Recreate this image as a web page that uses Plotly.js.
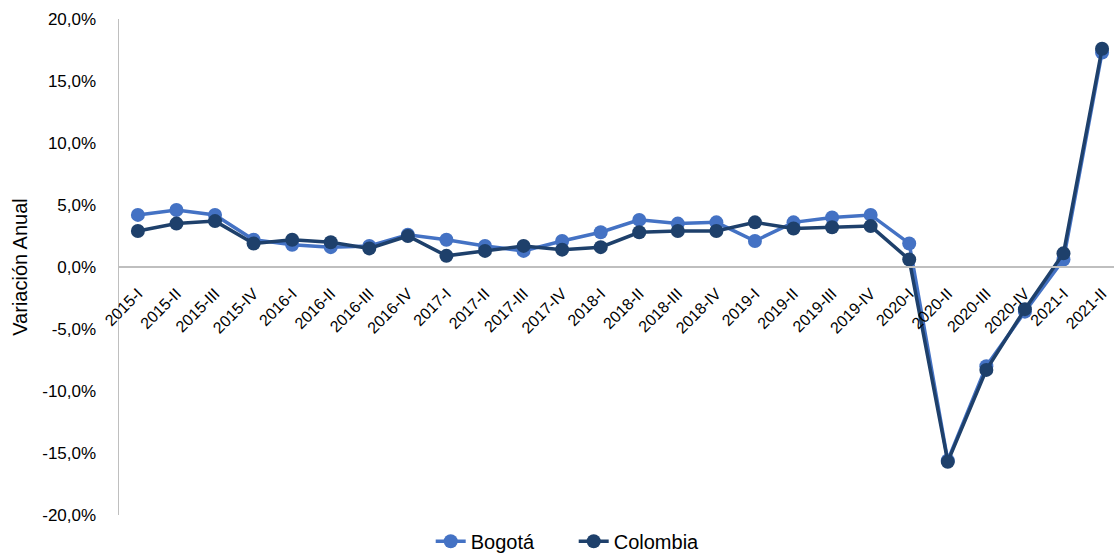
<!DOCTYPE html>
<html>
<head>
<meta charset="utf-8">
<script src="https://cdn.plot.ly/plotly-3.0.1.min.js"></script>
<style>html,body{margin:0;padding:0;background:#fff;}#chart{width:1114px;height:554px;}</style>
</head>
<body>
<div id="chart"></div>
<script>
const categories = ["2015-I","2015-II","2015-III","2015-IV","2016-I","2016-II","2016-III","2016-IV",
  "2017-I","2017-II","2017-III","2017-IV","2018-I","2018-II","2018-III","2018-IV",
  "2019-I","2019-II","2019-III","2019-IV","2020-I","2020-II","2020-III","2020-IV","2021-I","2021-II"];
const bogota = [4.2,4.6,4.2,2.2,1.8,1.6,1.7,2.6,2.2,1.7,1.3,2.1,2.8,3.8,3.5,3.6,
  2.1,3.6,4.0,4.2,1.9,-15.6,-8.0,-3.6,0.6,17.3];
const colombia = [2.9,3.5,3.7,1.9,2.2,2.0,1.5,2.5,0.9,1.3,1.7,1.4,1.6,2.8,2.9,2.9,
  3.6,3.1,3.2,3.3,0.6,-15.7,-8.3,-3.4,1.1,17.6];
const yTickVals = [20,15,10,5,0,-5,-10,-15,-20];
const yTickText = ["20,0%","15,0%","10,0%","5,0%","0,0%","-5,0%","-10,0%","-15,0%","-20,0%"];

const font = "Liberation Sans, Arial, sans-serif";
const traces = [
  {x: categories, y: bogota, name: "Bogotá", type: "scatter", mode: "lines+markers",
   line: {color: "#4472C4", width: 3.5}, marker: {color: "#4472C4", size: 14}},
  {x: categories, y: colombia, name: "Colombia", type: "scatter", mode: "lines+markers",
   line: {color: "#1E406B", width: 3.5}, marker: {color: "#1E406B", size: 14}}
];
const layout = {
  width: 1114, height: 554,
  margin: {l: 119, r: 0, t: 19, b: 39},
  paper_bgcolor: "#fff", plot_bgcolor: "#fff",
  font: {family: font, color: "#000", size: 17},
  showlegend: true,
  legend: {orientation: "h", xref: "container", yref: "container", x: 0.515, xanchor: "center",
    y: 0.023, yanchor: "middle", entrywidth: 98,
    font: {family: font, size: 20, color: "#000"}, tracegroupgap: 0},
  xaxis: {type: "category", anchor: "free", position: 0.5, showline: true, linecolor: "#BFBFBF",
    linewidth: 2, showgrid: false, zeroline: false, ticks: "", tickangle: -45,
    ticklabelstandoff: 10,
    tickfont: {family: font, size: 16, color: "#000"}, automargin: false,
    range: [-0.49, 25.31]},
  yaxis: {range: [-20, 20], tickvals: yTickVals, ticktext: yTickText, showgrid: false,
    zeroline: false, showline: true, linecolor: "#BFBFBF", linewidth: 1.5, ticks: "",
    ticklabelstandoff: 18, tickfont: {family: font, size: 17, color: "#000"}, automargin: false,
    title: {text: "Variación Anual", font: {family: font, size: 20, color: "#000"}, standoff: 9}}
};
Plotly.newPlot("chart", traces, layout, {displayModeBar: false, staticPlot: true});
</script>
</body>
</html>
